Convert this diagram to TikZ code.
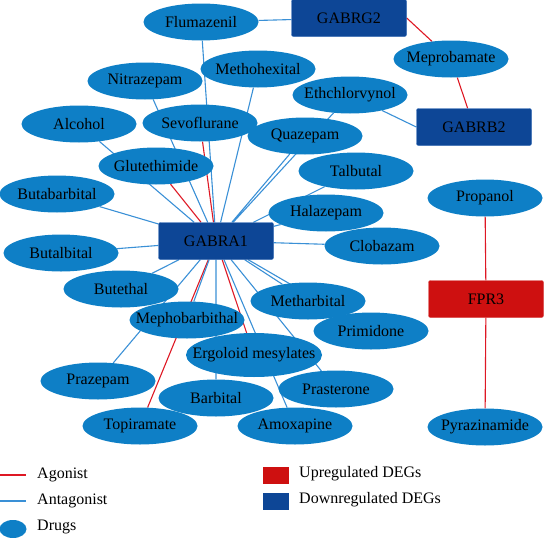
\documentclass[tikz,border=0pt]{standalone}
\usepackage{fontspec}
\setmainfont{Liberation Serif}
\usetikzlibrary{shapes.geometric,backgrounds}
\definecolor{drugblue}{RGB}{14,127,198}
\definecolor{downblue}{RGB}{13,70,150}
\definecolor{downedge}{RGB}{40,100,180}
\definecolor{upred}{RGB}{206,16,16}
\definecolor{agored}{RGB}{222,24,36}
\definecolor{antablue}{RGB}{58,144,214}

\begin{document}
\begin{tikzpicture}[x=1pt, y=-1pt]
    \tikzset{drug/.style={shape=ellipse, fill=drugblue, inner xsep=-30pt, inner ysep=0pt,
                 minimum width=115pt, minimum height=37pt, font=\fontsize{16}{19}\selectfont},
             gene/.style={shape=rectangle, rounded corners=2pt, fill=downblue, draw=downedge,
                 minimum width=115pt, minimum height=37pt, font=\fontsize{16}{19}\selectfont},
             upgene/.style={gene, fill=upred, draw=upred!80!white},
             ago/.style={draw=agored, line width=1.1pt},
             anta/.style={draw=antablue, line width=1.1pt},
             key/.style={anchor=west, inner sep=0pt, font=\fontsize{16}{19}\selectfont}}
    \useasboundingbox (0, 0) rectangle (544, 538);

    % genes
    \node[gene] (gabra1) at (216, 241){GABRA1};
    \node[gene] (gabrg2) at (349, 18){GABRG2};
    \node[gene] (gabrb2) at (474, 127){GABRB2};
    \node[upgene] (fpr3) at (486, 299){FPR3};

    % drugs
    \node[drug] (flu) at (201, 22){Flumazenil};
    \node[drug] (mepro) at (451, 59){Meprobamate};
    \node[drug] (metho) at (258, 69){Methohexital};
    \node[drug] (nitra) at (145, 81){Nitrazepam};
    \node[drug] (ethch) at (350, 95){Ethchlorvynol};
    \node[drug] (alc) at (79, 124){Alcohol};
    \node[drug] (sevo) at (200, 123){Sevoflurane};
    \node[drug] (quaz) at (305, 136){Quazepam};
    \node[drug] (glut) at (156, 166){Glutethimide};
    \node[drug] (talb) at (356, 171){Talbutal};
    \node[drug] (butab) at (57, 194){Butabarbital};
    \node[drug] (propa) at (485, 198){Propanol};
    \node[drug] (hala) at (326, 213){Halazepam};
    \node[drug] (clob) at (382, 246){Clobazam};
    \node[drug] (butal) at (61, 253){Butalbital};
    \node[drug] (buteth) at (121, 289){Butethal};
    \node[drug] (methar) at (308, 301){Metharbital};
    \node[drug] (mepho) at (187, 320){Mephobarbithal};
    \node[drug] (primi) at (371, 331){Primidone};
    \node[drug, minimum width=136pt, minimum height=44pt] (ergo) at (254, 355){Ergoloid mesylates};
    \node[drug] (praz) at (98, 381){Prazepam};
    \node[drug] (prast) at (336, 389){Prasterone};
    \node[drug] (barb) at (216, 398){Barbital};
    \node[drug] (topi) at (140, 426){Topiramate};
    \node[drug] (amox) at (295, 426){Amoxapine};
    \node[drug] (pyra) at (485, 427){Pyrazinamide};

    \begin{scope}[on background layer]
        \draw[ago] (sevo) -- (gabra1)
            (glut) -- (gabra1)
            (topi) -- (gabra1)
            (ergo) -- (gabra1)
            (gabrg2.east) -- (mepro)
            (mepro) -- (gabrb2)
            (propa) -- (fpr3)
            (fpr3) -- (pyra);
        \draw[anta] (flu) -- (gabrg2)
            (ethch) -- (gabrb2.west)
            (flu) -- (gabra1)
            (nitra) -- (gabra1)
            (metho) -- (gabra1)
            (ethch) -- (gabra1)
            (quaz) -- (gabra1)
            (alc) -- (gabra1)
            (talb) -- (gabra1)
            (butab) -- (gabra1)
            (hala) -- (gabra1)
            (clob) -- (gabra1)
            (butal) -- (gabra1)
            (buteth) -- (gabra1)
            (methar) -- (gabra1)
            (mepho) -- (gabra1)
            (primi) -- (gabra1)
            (praz) -- (gabra1)
            (prast) -- (gabra1)
            (barb) -- (gabra1)
            (amox) -- (gabra1);
    \end{scope}

    % legend
    \coordinate (k1a) at (0, 475);
    \coordinate (k1b) at (26, 475);
    \coordinate (k2a) at (0, 501);
    \coordinate (k2b) at (26, 501);
    \draw[ago] (k1a) -- (k1b);
    \draw[anta] (k2a) -- (k2b);
    \node[shape=ellipse, fill=drugblue, minimum width=27pt, minimum height=18pt, inner sep=0pt] (kdrug) at (13, 529){};
    \node[key] (kago) at (37, 475){Agonist};
    \node[key] (kanta) at (37, 501){Antagonist};
    \node[key] (kdrugs) at (37, 527){Drugs};
    \node[fill=upred, minimum width=26pt, minimum height=17pt, inner sep=0pt] (kup) at (276, 475){};
    \node[fill=downblue, minimum width=26pt, minimum height=17pt, inner sep=0pt] (kdown) at (276, 501){};
    \node[key] (kupt) at (299, 474){Upregulated DEGs};
    \node[key] (kdownt) at (299, 500){Downregulated DEGs};
\end{tikzpicture}
\end{document}
